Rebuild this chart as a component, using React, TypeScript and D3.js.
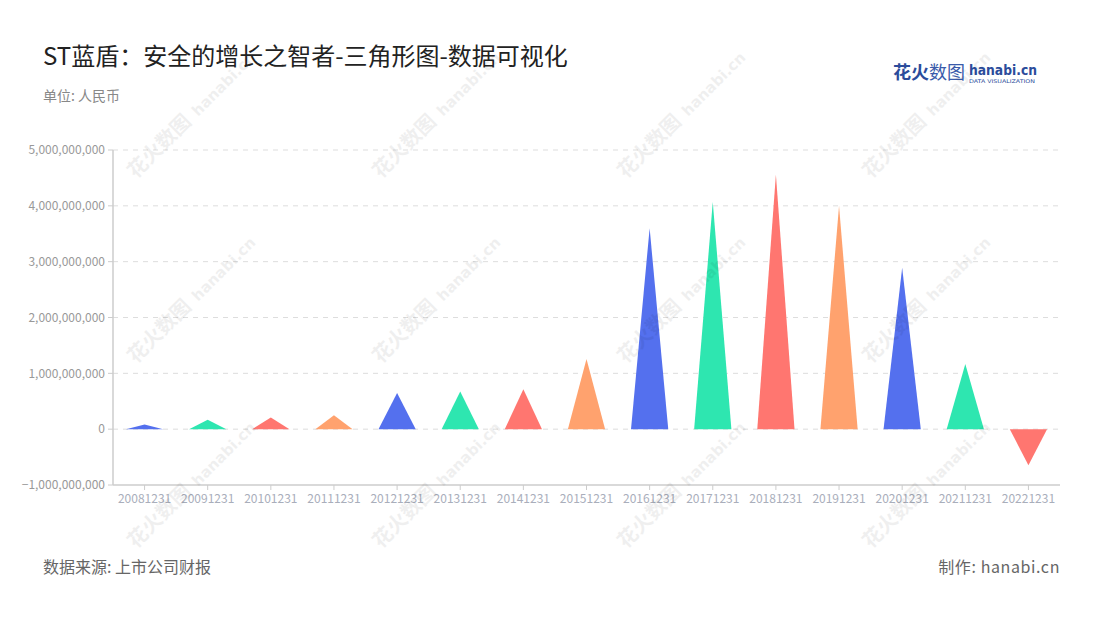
import React from "react";
import * as d3 from "d3";

const categories = ["20081231","20091231","20101231","20111231","20121231","20131231","20141231","20151231","20161231","20171231","20181231","20191231","20201231","20211231","20221231"];
const values = [85e6, 170e6, 210e6, 250e6, 650e6, 675e6, 715e6, 1255e6, 3600e6, 4070e6, 4560e6, 4000e6, 2890e6, 1165e6, -645e6];
const palette = ["#5470EE", "#2EE6B0", "#FF7670", "#FFA26E"];
const yTicks = [-1e9, 0, 1e9, 2e9, 3e9, 4e9, 5e9];

const W = 1100, H = 620;
const left = 113, right = 1060, top = 150, bottom = 485;

export default function App() {
  const x = d3.scaleBand<string>().domain(categories).range([left, right]);
  const y = d3.scaleLinear().domain([-1e9, 5e9]).range([bottom, top]);
  const fmt = d3.format(",");
  const triW = x.bandwidth() * 0.59;
  const wm: [number, number][] = [];
  for (const cx of [150, 395, 640, 885]) for (const cy of [165, 350, 535]) wm.push([cx, cy]);
  return (
    <div style={{ position: "fixed", left: 0, top: 0 }}>
      <svg width={W} height={H} style={{ display: "block", background: "#fff", fontFamily: "'Noto Sans CJK SC', 'Noto Sans', sans-serif" }}>
        <text x={43} y={65} fontSize={24} fill="#222">ST蓝盾：安全的增长之智者-三角形图-数据可视化</text>
        <text x={43} y={101} fontSize={14} fill="#888">单位: 人民币</text>
        <g>
          <text x={893} y={79} fontSize={18} fontWeight="bold" fill="#2B4C9B" textLength={72} lengthAdjust="spacingAndGlyphs">花火<tspan fontWeight="normal" fill="#3A5BAA">数图</tspan></text>
          <text x={969} y={75} fontSize={14} fontWeight="bold" fill="#2B4C9B" fontFamily="'DejaVu Sans', sans-serif" textLength={68} lengthAdjust="spacingAndGlyphs">hanabi.cn</text>
          <text x={969} y={83} fontSize={5} fill="#2B4C9B" fontFamily="'DejaVu Sans', sans-serif" textLength={66} lengthAdjust="spacingAndGlyphs">DATA VISUALIZATION</text>
        </g>
        {yTicks.map(t => (
          <g key={t}>
            {t !== -1e9 && <line x1={left} x2={right} y1={y(t)} y2={y(t)} stroke="#ddd" strokeDasharray="5,5" />}
            <line x1={left - 5} x2={left} y1={y(t)} y2={y(t)} stroke="#ccc" />
            <text x={left - 8} y={y(t)} dy="0.35em" textAnchor="end" fontSize={12} fill="#999">{fmt(t)}</text>
          </g>
        ))}
        <line x1={left} x2={left} y1={top} y2={bottom} stroke="#ccc" strokeWidth={1.5} />
        <line x1={left} x2={right} y1={bottom} y2={bottom} stroke="#ccc" strokeWidth={1.5} />
        {categories.map((c, i) => {
          const cx = (x(c) as number) + x.bandwidth() / 2;
          const v = values[i];
          const p = `M${cx - triW / 2},${y(0)} L${cx},${y(v)} L${cx + triW / 2},${y(0)} Z`;
          return (
            <g key={c}>
              <path d={p} fill={palette[i % 4]} />
              <line x1={cx} x2={cx} y1={bottom} y2={bottom + 5} stroke="#ccc" />
              <text x={cx} y={503} textAnchor="middle" fontSize={12} fill="#A9AEBB">{c}</text>
            </g>
          );
        })}
        {wm.map(([cx, cy], i) => (
          <g key={i} transform={`translate(${cx},${cy}) rotate(-45)`} opacity={0.06}>
            <text x={-20} y={0} fontSize={20} fontWeight="bold" fill="#000">花火数图</text>
            <text x={68} y={0} fontSize={15} fontWeight="bold" fill="#000" fontFamily="'DejaVu Sans', sans-serif">hanabi.cn</text>
          </g>
        ))}
        <text x={43} y={573} fontSize={16} fill="#666">数据来源: 上市公司财报</text>
        <text x={1060} y={573} fontSize={16} fill="#666" textAnchor="end" letterSpacing={0.6}>制作: hanabi.cn</text>
      </svg>
    </div>
  );
}
